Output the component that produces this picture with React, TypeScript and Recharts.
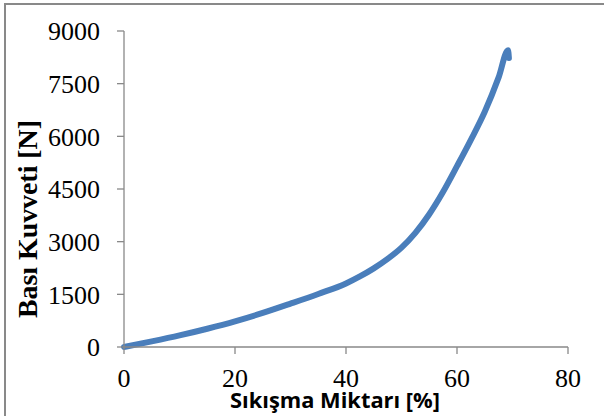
import React from 'react';
import { LineChart, Line, XAxis, YAxis, Label } from 'recharts';

const compression = [0, 5, 10, 15, 20, 25, 30, 35, 40, 42.5, 45, 47.5, 50, 52.5, 55, 57.5, 60, 62.5, 65, 67.5, 69.2, 69.35];
const force = [0, 160, 330, 520, 730, 970, 1235, 1510, 1810, 2010, 2240, 2510, 2830, 3250, 3780, 4420, 5150, 5900, 6700, 7680, 8450, 8230];
const xTicks = [0, 20, 40, 60, 80];
const yTicks = [0, 1500, 3000, 4500, 6000, 7500, 9000];

const data = compression.map((x, i) => ({ x, y: force[i] }));

const axisColor = '#898989';
const tickFont = { fontFamily: 'Liberation Serif, Times New Roman, serif', fontSize: 26, fill: '#000' };

const XTitle = (props: any) => {
  const vb = props.viewBox || {};
  const cx = vb.x + vb.width / 2 - 11;
  return (
    <text x={cx} y={408} textAnchor="middle" textLength={210} lengthAdjust="spacingAndGlyphs"
      style={{ fontFamily: '"Open Sans", "Noto Sans", sans-serif', fontWeight: 700, fontSize: 22, fill: '#000' }}>
      Sıkışma Miktarı [%]
    </text>
  );
};

const YTitle = () => {
  const x0 = 37;
  const y0 = 219;
  return (
    <text x={x0} y={y0} transform={`rotate(-90, ${x0}, ${y0})`} textAnchor="middle" textLength={198}
      lengthAdjust="spacingAndGlyphs"
      style={{ fontFamily: '"Liberation Serif", "Times New Roman", serif', fontWeight: 700, fontSize: 27, fill: '#000' }}>
      Bası Kuvveti [N]
    </text>
  );
};

export default function App() {
  return (
    <div style={{ position: 'absolute', left: 0, top: 0, width: 604, height: 416, background: '#fff' }}>
      <div style={{ position: 'absolute', left: 4, top: 3, right: -10, bottom: -10, borderLeft: `2px solid ${axisColor}`, borderTop: `2px solid ${axisColor}` }} />
      <div style={{ position: 'absolute', left: 0, top: 0 }}>
        <LineChart width={604} height={416} data={data} margin={{ top: 31, right: 36, bottom: 0, left: 0 }}>
          <XAxis dataKey="x" type="number" domain={[0, 80]} ticks={xTicks} height={69}
            stroke={axisColor} tickSize={7} tickMargin={15} tick={tickFont} interval={0}
            axisLine={{ stroke: axisColor, strokeWidth: 1.3 }} tickLine={{ stroke: axisColor, strokeWidth: 1.3 }}>
            <Label content={XTitle} />
          </XAxis>
          <YAxis dataKey="y" type="number" domain={[0, 9000]} ticks={yTicks} width={124}
            stroke={axisColor} tickSize={7} tickMargin={17} tick={tickFont} interval={0}
            axisLine={{ stroke: axisColor, strokeWidth: 1.3 }} tickLine={{ stroke: axisColor, strokeWidth: 1.3 }}>
            <Label content={YTitle} />
          </YAxis>
          <Line type="monotone" dataKey="y" stroke="#4A7EBB" strokeWidth={6} dot={false}
            strokeLinecap="round" strokeLinejoin="round" isAnimationActive={false} />
        </LineChart>
      </div>
    </div>
  );
}
